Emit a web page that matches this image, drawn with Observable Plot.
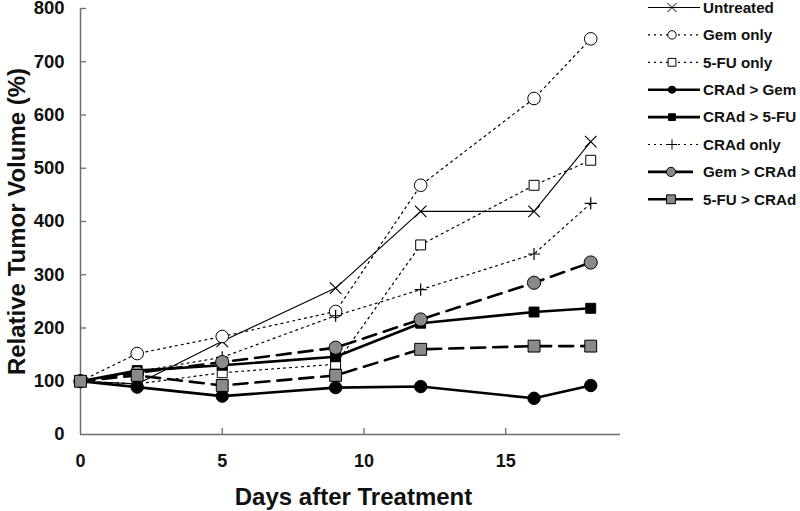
<!DOCTYPE html>
<html>
<head>
<meta charset="utf-8">
<script src="https://cdn.jsdelivr.net/npm/d3@7"></script>
<script src="https://cdn.jsdelivr.net/npm/@observablehq/plot@0.6"></script>
<style>
  html, body { margin: 0; padding: 0; background: #fff; }
  #wrap { position: relative; width: 800px; height: 511px; overflow: hidden; }
  #legend { position: absolute; left: 640px; top: 0px; }
  svg { font-family: "Liberation Sans", Arial, sans-serif; }
</style>
</head>
<body>
<div id="wrap"><div id="chart"></div><div id="legend"></div></div>
<script>
// ---- data ----
const days = [0, 2, 5, 9, 12, 16, 18];
const untreated = [100, 95, 175, 275, 419, 419, 550];
const gemOnly   = [100, 152, 184, 231, 468, 631, 743];
const fuOnly    = [100, 95, 116, 132, 356, 468, 515];
const cradGem   = [100, 89, 72, 88, 90, 68, 92];
const cradFu    = [100, 120, 130, 146, 209, 230, 237];
const cradOnly  = [100, 118, 145, 223, 272, 339, 434];
const gemCrad   = [100, 116, 136, 163, 216, 285, 323];
const fuCrad    = [100, 111, 92, 111, 160, 166, 166];
const seriesNames = ["Untreated", "Gem only", "5-FU only", "CRAd > Gem", "CRAd > 5-FU", "CRAd only", "Gem > CRAd", "5-FU > CRAd"];
const seriesValues = [untreated, gemOnly, fuOnly, cradGem, cradFu, cradOnly, gemCrad, fuCrad];
const xTicks = [0, 5, 10, 15];
const yTicks = [0, 100, 200, 300, 400, 500, 600, 700, 800];
const xTitle = "Days after Treatment";
const yTitle = "Relative Tumor Volume (%)";

// ---- styles ----
const GRAY = "#8a8a8a";
const AX = "#6e6e6e";
const styles = [
  {w: 1.1, dash: null,   symbol: "times",  fill: "none",  r: 5.3, lr: 4.2, len: 52},
  {w: 1.2, dash: "2,4",  symbol: "circle", fill: "white", r: 6.3, lr: 4.2, len: 52},
  {w: 1.2, dash: "2,4",  symbol: "square", fill: "white", r: 5.6, lr: 4.4, len: 52},
  {w: 2.6, dash: null,   symbol: "circle", fill: "black", r: 6.2, lr: 3.6, len: 52},
  {w: 2.6, dash: null,   symbol: "square", fill: "black", r: 5.6, lr: 3.8, len: 52},
  {w: 1.2, dash: "2,4",  symbol: "plus",   fill: "none",  r: 4.0, lr: 3.4, len: 52},
  {w: 2.6, dash: "14,8", symbol: "circle", fill: GRAY,    r: 6.6, lr: 4.6, len: 45},
  {w: 2.6, dash: "14,8", symbol: "square", fill: GRAY,    r: 6.7, lr: 5.0, len: 45}
];

const rows = seriesNames.map((name, i) => days.map((d, j) => ({series: name, day: d, value: seriesValues[i][j]})));

const marks = [
  Plot.ruleY([0], {stroke: AX, strokeWidth: 1.5}),
  Plot.ruleX([0], {stroke: AX, strokeWidth: 1.5}),
  // inward tick marks
  Plot.axisX({ticks: xTicks.slice(1), tickSize: 6, dy: -6, tickFormat: () => "", label: null, stroke: AX, strokeWidth: 1.3}),
  Plot.axisY({ticks: yTicks.slice(1), tickSize: 6, dx: 6, tickFormat: () => "", label: null, stroke: AX, strokeWidth: 1.3}),
  // tick labels
  Plot.axisX({ticks: xTicks, tickSize: 0, tickPadding: 20, fontSize: 18, fontWeight: "bold", label: null, fill: "#111"}),
  Plot.axisY({ticks: yTicks, tickSize: 0, tickPadding: 16, fontSize: 18.5, fontWeight: "bold", label: null, fill: "#111"}),
  Plot.text([xTitle], {frameAnchor: "bottom", dy: 63, dx: 3, textAnchor: "middle", lineAnchor: "middle", fontSize: 24, fontWeight: "bold", fill: "#111"}),
  Plot.text([yTitle], {frameAnchor: "left", dx: -63, rotate: -90, textAnchor: "middle", lineAnchor: "middle", fontSize: 24, fontWeight: "bold", fill: "#111"})
];
rows.forEach((data, i) => {
  const s = styles[i];
  marks.push(Plot.line(data, {x: "day", y: "value", stroke: "black", strokeWidth: s.w, strokeDasharray: s.dash}));
});
rows.forEach((data, i) => {
  const s = styles[i];
  marks.push(Plot.dot(data, {x: "day", y: "value", symbol: s.symbol, r: s.r, fill: s.fill, stroke: "black",
    strokeWidth: (s.symbol === "times" || s.symbol === "plus") ? 1.2 : 1}));
});

const chart = Plot.plot({
  width: 800,
  height: 511,
  marginLeft: 80,
  marginRight: 180,
  marginTop: 8,
  marginBottom: 77,
  x: {domain: [0, 19.05], label: null},
  y: {domain: [0, 800], label: null},
  style: {fontFamily: "'Liberation Sans', Arial, sans-serif", background: "white", overflow: "visible"},
  marks
});
document.getElementById("chart").appendChild(chart);

// ---- legend ----
const leg = d3.create("svg").attr("width", 160).attr("height", 215)
  .style("font-family", "'Liberation Sans', Arial, sans-serif");
seriesNames.forEach((name, i) => {
  const s = styles[i];
  const y = 7.5 + i * 27.4;
  const g = leg.append("g").attr("transform", `translate(0,${y})`);
  g.append("line").attr("x1", 8).attr("x2", 8 + s.len).attr("y1", 0).attr("y2", 0)
    .attr("stroke", "black").attr("stroke-width", s.w)
    .attr("stroke-dasharray", s.dash ? (s.dash === "14,8" ? null : s.dash) : null);
  const type = {circle: d3.symbolCircle, square: d3.symbolSquare, times: d3.symbolTimes, plus: d3.symbolPlus}[s.symbol];
  g.append("path").attr("transform", `translate(${s.len > 50 ? 32 : 31},0)`)
    .attr("d", d3.symbol(type, Math.PI * s.lr * s.lr)())
    .attr("fill", s.fill).attr("stroke", "black").attr("stroke-width", 1);
  g.append("text").attr("x", 63).attr("y", 0).attr("dy", "0.35em")
    .attr("font-size", 15.2).attr("font-weight", "bold").attr("fill", "#111").text(name);
});
document.getElementById("legend").appendChild(leg.node());
</script>
</body>
</html>
